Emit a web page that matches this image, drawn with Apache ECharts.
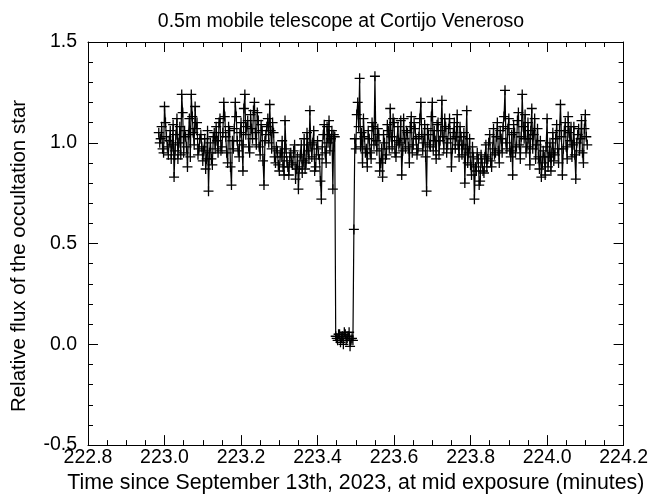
<!DOCTYPE html>
<html>
<head>
<meta charset="utf-8">
<script src="https://cdn.jsdelivr.net/npm/echarts@6/dist/echarts.min.js"></script>
<style>
html,body{margin:0;padding:0;background:#fff;overflow:hidden;}
#chart{width:651px;height:499px;}
</style>
</head>
<body>
<div id="chart"></div>
<script>
// Time since September 13th, 2023 (minutes), mid exposure — frames A
var times = [
222.985,222.990,222.995,223.000,223.005,223.010,223.015,223.020,223.025,223.030,
223.035,223.040,223.045,223.050,223.055,223.060,223.065,223.070,223.075,223.080,
223.085,223.090,223.095,223.100,223.105,223.110,223.115,223.120,223.125,223.130,
223.135,223.140,223.145,223.150,223.155,223.160,223.165,223.170,223.175,223.180,
223.185,223.190,223.195,223.200,223.205,223.210,223.215,223.220,223.225,223.230,
223.235,223.240,223.245,223.250,223.255,223.260,223.265,223.270,223.275,223.280,
223.285,223.290,223.295,223.300,223.305,223.310,223.315,223.320,223.325,223.330,
223.335,223.340,223.345,223.350,223.355,223.360,223.365,223.370,223.375,223.380,
223.385,223.390,223.395,223.400,223.405,223.410,223.415,223.420,223.425,223.430,
223.435,223.440,223.445,223.450,223.455,223.460,223.465,223.470,223.475,223.480,
223.485,223.490,223.495,223.500,223.505,223.510,223.515,223.520,223.525,223.530,
223.535,223.540,223.545,223.550,223.555,223.560,223.565,223.570,223.575,223.580,
223.585,223.590,223.595,223.600,223.605,223.610,223.615,223.620,223.625,223.630,
223.635,223.640,223.645,223.650,223.655,223.660,223.665,223.670,223.675,223.680,
223.685,223.690,223.695,223.700,223.705,223.710,223.715,223.720,223.725,223.730,
223.735,223.740,223.745,223.750,223.755,223.760,223.765,223.770,223.775,223.780,
223.785,223.790,223.795,223.800,223.805,223.810,223.815,223.820,223.825,223.830,
223.835,223.840,223.845,223.850,223.855,223.860,223.865,223.870,223.875,223.880,
223.885,223.890,223.895,223.900,223.905,223.910,223.915,223.920,223.925,223.930,
223.935,223.940,223.945,223.950,223.955,223.960,223.965,223.970,223.975,223.980,
223.985,223.990,223.995,224.000,224.005,224.010,224.015,224.020,224.025,224.030,
224.035,224.040,224.045,224.050,224.055,224.060,224.065,224.070,224.075,224.080,
224.085,224.090,224.095,224.100,224.105
];
// Relative flux of the occultation star — frames A
var flux = [
1.05,1.02,0.97,1.18,1.03,0.94,1.06,0.99,0.83,1.04,
0.92,1.08,1.24,0.95,1.03,0.88,1.12,1.24,1.05,1.18,
1.10,0.97,1.04,0.91,1.02,0.92,0.76,1.00,0.89,1.05,
1.08,0.95,1.12,0.98,1.20,1.03,0.90,1.06,0.79,0.97,
1.20,1.01,0.93,1.10,0.86,1.24,1.08,0.98,1.14,1.02,
1.20,0.99,1.11,0.94,1.06,0.79,1.04,1.12,1.19,0.97,
1.05,0.90,0.96,0.86,0.93,0.88,1.11,0.91,0.84,0.95,
0.89,0.99,0.87,0.77,0.94,0.85,1.02,0.90,0.96,1.16,
0.93,1.06,0.88,1.01,0.92,0.72,1.04,0.95,1.08,1.11,
1.02,0.77,1.03,0.03,0.05,0.01,0.04,0.06,0.02,0.04,
-0.01,0.03,0.57,0.97,1.20,1.32,1.05,1.12,0.95,0.88,
1.02,0.92,1.08,1.33,0.96,1.04,0.90,0.83,1.00,0.94,
1.06,1.17,0.98,1.10,0.93,1.08,1.00,0.84,1.12,0.97,
1.05,0.90,1.13,0.99,1.07,0.94,1.03,1.20,0.96,1.09,
0.76,1.04,0.98,1.20,1.06,0.92,1.10,1.01,1.21,0.97,
1.08,1.00,1.12,0.88,1.05,0.97,1.14,0.93,1.03,0.99,
0.80,1.16,0.95,0.89,0.98,0.72,0.86,0.92,0.81,0.90,
0.85,0.99,0.92,1.04,0.88,1.07,0.95,1.10,0.90,1.02,
1.08,1.26,0.97,1.12,0.93,0.84,1.05,0.98,1.15,0.92,
1.24,1.02,0.95,1.10,0.89,1.17,1.04,0.92,1.07,0.87,
0.83,0.96,0.84,1.12,0.93,0.86,1.05,0.94,1.09,0.90,
1.19,0.84,1.06,0.98,1.13,1.01,0.93,1.08,0.82,1.04,
0.96,1.11,0.90,1.14,0.99
];
// frames B (interleaved exposures)
var timesB = [
222.9875,222.9925,222.9975,223.0025,223.0075,223.0125,223.0175,223.0225,223.0275,223.0325,
223.0375,223.0425,223.0475,223.0525,223.0575,223.0625,223.0675,223.0725,223.0775,223.0825,
223.0875,223.0925,223.0975,223.1025,223.1075,223.1125,223.1175,223.1225,223.1275,223.1325,
223.1375,223.1425,223.1475,223.1525,223.1575,223.1625,223.1675,223.1725,223.1775,223.1825,
223.1875,223.1925,223.1975,223.2025,223.2075,223.2125,223.2175,223.2225,223.2275,223.2325,
223.2375,223.2425,223.2475,223.2525,223.2575,223.2625,223.2675,223.2725,223.2775,223.2825,
223.2875,223.2925,223.2975,223.3025,223.3075,223.3125,223.3175,223.3225,223.3275,223.3325,
223.3375,223.3425,223.3475,223.3525,223.3575,223.3625,223.3675,223.3725,223.3775,223.3825,
223.3875,223.3925,223.3975,223.4025,223.4075,223.4125,223.4175,223.4225,223.4275,223.4325,
223.4375,223.4425,223.4475,223.4525,223.4575,223.4625,223.4675,223.4725,223.4775,223.4825,
223.4875,223.4925,223.4975,223.5025,223.5075,223.5125,223.5175,223.5225,223.5275,223.5325,
223.5375,223.5425,223.5475,223.5525,223.5575,223.5625,223.5675,223.5725,223.5775,223.5825,
223.5875,223.5925,223.5975,223.6025,223.6075,223.6125,223.6175,223.6225,223.6275,223.6325,
223.6375,223.6425,223.6475,223.6525,223.6575,223.6625,223.6675,223.6725,223.6775,223.6825,
223.6875,223.6925,223.6975,223.7025,223.7075,223.7125,223.7175,223.7225,223.7275,223.7325,
223.7375,223.7425,223.7475,223.7525,223.7575,223.7625,223.7675,223.7725,223.7775,223.7825,
223.7875,223.7925,223.7975,223.8025,223.8075,223.8125,223.8175,223.8225,223.8275,223.8325,
223.8375,223.8425,223.8475,223.8525,223.8575,223.8625,223.8675,223.8725,223.8775,223.8825,
223.8875,223.8925,223.8975,223.9025,223.9075,223.9125,223.9175,223.9225,223.9275,223.9325,
223.9375,223.9425,223.9475,223.9525,223.9575,223.9625,223.9675,223.9725,223.9775,223.9825,
223.9875,223.9925,223.9975,224.0025,224.0075,224.0125,224.0175,224.0225,224.0275,224.0325,
224.0375,224.0425,224.0475,224.0525,224.0575,224.0625,224.0675,224.0725,224.0775,224.0825,
224.0875,224.0925,224.0975,224.1025
];
var fluxB = [
1.00,1.08,0.95,1.10,0.98,1.01,0.92,1.09,0.96,1.12,
1.00,0.94,1.15,1.06,0.98,1.04,0.93,1.13,0.99,1.07,
0.94,1.02,0.98,0.96,0.87,1.06,0.95,0.92,1.03,0.97,
1.01,1.10,0.96,1.05,1.13,0.95,1.08,0.88,1.01,1.07,
1.13,0.96,1.05,0.99,1.17,1.04,1.11,0.95,1.07,1.16,
1.05,1.15,0.98,1.09,0.91,1.01,1.08,1.00,1.06,1.10,
0.93,0.98,0.89,0.95,1.01,0.84,0.97,0.88,0.93,0.90,
0.96,0.82,0.93,0.88,0.99,0.91,0.87,1.05,0.92,0.99,
1.00,0.86,0.97,0.94,0.81,0.98,1.09,0.90,1.00,0.96,
1.06,1.04,0.04,0.02,0.05,0.03,0.00,0.05,0.03,0.06,
0.02,0.02,1.02,1.14,1.08,0.98,0.90,1.03,0.97,1.06,
0.95,1.10,0.99,1.01,1.07,0.86,0.97,1.04,0.92,1.09,
0.97,1.03,1.12,0.95,1.01,0.99,1.11,0.96,1.02,1.06,
0.98,1.08,0.95,1.10,1.02,0.97,1.12,1.04,1.00,0.93,
1.07,0.99,1.13,0.96,1.01,1.09,0.94,1.06,1.03,1.12,
0.95,1.07,1.02,0.97,1.10,1.03,0.99,1.08,0.94,1.05,
0.97,0.90,1.02,0.84,0.93,0.88,0.95,0.79,0.94,0.86,
0.93,0.88,1.00,0.91,0.97,0.94,1.03,0.96,1.06,0.95,
1.13,1.00,1.07,0.96,1.04,1.09,0.95,1.11,0.99,1.03,
1.08,1.14,0.98,1.02,1.06,0.97,1.12,0.99,0.93,1.01,
0.90,0.93,0.98,0.88,1.00,0.95,0.91,1.02,0.97,1.06,
1.03,0.97,1.10,0.92,1.05,1.08,0.99,0.94,1.00,1.07,
1.02,0.95,1.07,1.03
];
var xTicks = [222.8, 223.0, 223.2, 223.4, 223.6, 223.8, 224.0, 224.2];
var yTicks = [-0.5, 0.0, 0.5, 1.0, 1.5];

var FONT = "'Liberation Sans', Arial, Helvetica, sans-serif";
var points = [];
times.forEach(function (t, i) { points.push([t, flux[i]]); });
timesB.forEach(function (t, i) { points.push([t, fluxB[i]]); });
points.sort(function (a, b) { return a[0] - b[0]; });

var chart = echarts.init(document.getElementById('chart'), null, {renderer: 'canvas'});

function baseAxis(extra) {
  var o = {
    type: 'value',
    axisLine: {show: true, onZero: false, lineStyle: {color: '#000', width: 1}},
    axisTick: {show: true, inside: true, length: 10, lineStyle: {color: '#000', width: 1}},
    splitLine: {show: false},
    minorSplitLine: {show: false}
  };
  for (var k in extra) o[k] = extra[k];
  return o;
}

var option = {
  backgroundColor: '#fff',
  animation: false,
  title: {
    text: '0.5m mobile telescope at Cortijo Veneroso',
    left: 336, top: 7, textAlign: 'center',
    textStyle: {fontFamily: FONT, fontSize: 19.5, fontWeight: 'normal', color: '#000'}
  },
  graphic: [{
    type: 'text', x: 19, y: 256, rotation: Math.PI / 2,
    style: {text: 'Relative flux of the occultation star', fontFamily: FONT, fontSize: 20.5,
      fill: '#000', align: 'center', verticalAlign: 'middle'}
  }],
  grid: {left: 88, top: 42, width: 537, height: 410, containLabel: false},
  xAxis: [
    baseAxis({
      min: xTicks[0], max: xTicks[xTicks.length - 1], interval: 0.2,
      position: 'bottom',
      name: 'Time since September 13th, 2023, at mid exposure (minutes)',
      nameLocation: 'middle', nameGap: 24,
      nameTextStyle: {fontFamily: FONT, fontSize: 21.3, color: '#000'},
      axisLabel: {show: true, margin: 3, fontFamily: FONT, fontSize: 19.5, color: '#000',
        formatter: function (v) { return v.toFixed(1); }},
      minorTick: {show: true, splitNumber: 4, length: 5, lineStyle: {color: '#000', width: 1}}
    }),
    baseAxis({
      min: xTicks[0], max: xTicks[xTicks.length - 1], interval: 0.2,
      position: 'top',
      axisLabel: {show: false},
      minorTick: {show: true, splitNumber: 4, length: 5, lineStyle: {color: '#000', width: 1}}
    })
  ],
  yAxis: [
    baseAxis({
      min: yTicks[0], max: yTicks[yTicks.length - 1], interval: 0.5,
      position: 'left',
      axisLabel: {show: true, margin: 11, fontFamily: FONT, fontSize: 19.5, color: '#000',
        formatter: function (v) { return v.toFixed(1); }},
      minorTick: {show: true, splitNumber: 5, length: 5, lineStyle: {color: '#000', width: 1}}
    }),
    baseAxis({
      min: yTicks[0], max: yTicks[yTicks.length - 1], interval: 0.5,
      position: 'right',
      axisLabel: {show: false},
      minorTick: {show: true, splitNumber: 5, length: 5, lineStyle: {color: '#000', width: 1}}
    })
  ],
  series: [{
    type: 'line',
    xAxisIndex: 0, yAxisIndex: 0,
    data: points,
    showAllSymbol: true,
    symbol: 'path://M0,5L10,5M5,0L5,10',
    symbolSize: 10,
    lineStyle: {color: '#000', width: 1.2},
    itemStyle: {color: 'rgba(0,0,0,0)', borderColor: '#000', borderWidth: 1.3},
    emphasis: {disabled: true},
    silent: true
  }]
};
chart.setOption(option);
</script>
</body>
</html>
